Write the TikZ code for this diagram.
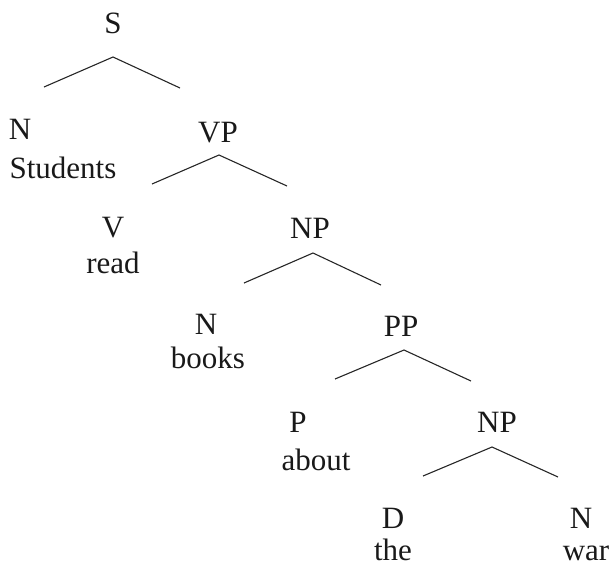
\documentclass[tikz,border=0pt]{standalone}
\usepackage{fontspec}
\setmainfont{Liberation Serif}
\begin{document}
\begin{tikzpicture}[x=1pt,y=-1pt,
  lbl/.style={anchor=base,inner sep=0pt,outer sep=0pt,font=\fontsize{31}{37}\selectfont,text=black!90},
  branch/.style={draw=black!85,line width=1.1pt}]
\useasboundingbox (0,0) rectangle (610,566);

% category labels and words
\node[lbl] (S)   at (113,33)  {S};
\node[lbl] (N1)  at (20,139)  {N};
\node[lbl] (w1)  at (63,178)  {Students};
\node[lbl] (VP)  at (218,142) {VP};
\node[lbl] (V)   at (113,237) {V};
\node[lbl] (w2)  at (113,273) {read};
\node[lbl] (NP1) at (310,238) {NP};
\node[lbl] (N2)  at (206,334) {N};
\node[lbl] (w3)  at (208,368) {books};
\node[lbl] (PP)  at (401,336) {PP};
\node[lbl] (P)   at (298,432) {P};
\node[lbl] (w4)  at (316,470) {about};
\node[lbl] (NP2) at (497,432) {NP};
\node[lbl] (D)   at (393,528) {D};
\node[lbl] (w5)  at (393,560) {the};
\node[lbl] (N3)  at (581,528) {N};
\node[lbl] (w6)  at (586,560) {war};

% branch points: apex under each mother, free ends above the daughters
\coordinate (sA)  at (113,57);  \coordinate (sL)  at (44,87);   \coordinate (sR)  at (180,88);
\coordinate (vpA) at (219,155); \coordinate (vpL) at (152,184); \coordinate (vpR) at (287,186);
\coordinate (n1A) at (313,253); \coordinate (n1L) at (244,283); \coordinate (n1R) at (381,285);
\coordinate (ppA) at (404,350); \coordinate (ppL) at (335,379); \coordinate (ppR) at (471,381);
\coordinate (n2A) at (492,447); \coordinate (n2L) at (423,476); \coordinate (n2R) at (558,477);

\draw[branch] (sL) -- (sA) -- (sR);
\draw[branch] (vpL) -- (vpA) -- (vpR);
\draw[branch] (n1L) -- (n1A) -- (n1R);
\draw[branch] (ppL) -- (ppA) -- (ppR);
\draw[branch] (n2L) -- (n2A) -- (n2R);
\end{tikzpicture}
\end{document}
